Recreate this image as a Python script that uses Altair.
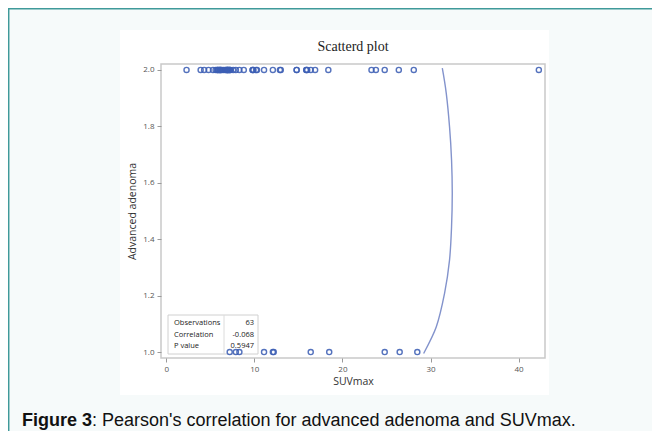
import altair as alt
import pandas as pd

# SUVmax values
suv_advanced = [2.3, 3.9, 4.3, 4.8, 5.3, 5.6, 5.8, 5.8, 5.9, 6.0, 6.1, 6.1, 6.2, 6.3, 6.5,
                6.7, 6.8, 6.9, 6.9, 7.0, 7.0, 7.1, 7.2, 7.2, 7.3, 7.6, 7.9, 8.3, 8.8, 9.8,
                9.8, 9.9, 10.2, 10.3, 11.1, 12.1, 12.9, 13.0, 14.8, 14.8, 15.9, 15.9, 16.0,
                16.4, 16.9, 18.4, 23.3, 23.8, 24.8, 26.4, 28.1, 42.3]
suv_non_advanced = [7.2, 7.9, 8.3, 11.1, 12.1, 12.2, 16.4, 18.5, 24.8, 26.5, 28.5]

# ellipse-like curve
curve_x = [31.34, 31.79, 32.16, 32.39, 32.47, 32.39, 32.16, 31.60, 30.66, 29.22]
curve_y = [2.006, 1.917, 1.799, 1.681, 1.563, 1.444, 1.326, 1.209, 1.090, 0.995]

stat_labels = ["Observations", "Correlation", "P value"]
stat_values = ["63", "-0.068", "0.5947"]

x_ticks = [0, 10, 20, 30, 40]
y_ticks = [1.0, 1.2, 1.4, 1.6, 1.8, 2.0]

W, H = 384, 294
FONT = "Open Sans"
TEAL = "#3f9a9a"

pts = pd.DataFrame({
    "SUVmax": suv_advanced + suv_non_advanced,
    "adv": [2.0] * len(suv_advanced) + [1.0] * len(suv_non_advanced),
})
curve = pd.DataFrame({"x": curve_x, "y": curve_y, "i": list(range(len(curve_x)))})
one = pd.DataFrame({"k": [0]})

xs = alt.Scale(domain=[-0.6, 43], nice=False, zero=False)
ys = alt.Scale(domain=[0.979, 2.021], nice=False, zero=False)

axis_common = dict(grid=False, domain=False, zindex=1, tickColor="#9a9a9a", tickSize=4,
                   labelFont=FONT, labelFontSize=8, labelColor="#555", labelPadding=3,
                   titleFont=FONT, titleFontSize=10.5, titleFontWeight="normal",
                   titleColor="#333")

# page border (teal) and white figure panel
border_left = alt.Chart(one).mark_rule(stroke=TEAL, strokeWidth=1.5).encode(
    x=alt.value(-152.3), y=alt.value(-56), y2=alt.value(367))
border_top = alt.Chart(one).mark_rule(stroke=TEAL, strokeWidth=1.5).encode(
    x=alt.value(-153), x2=alt.value(491), y=alt.value(-55.3))

white = alt.Chart(one).mark_rect(fill="white").encode(
    x=alt.value(-41), x2=alt.value(388), y=alt.value(-34), y2=alt.value(331))

frame = alt.Chart(one).mark_rect(fillOpacity=0, stroke="#c9c9c9", strokeWidth=1.5).encode(
    x=alt.value(0), x2=alt.value(W), y=alt.value(0), y2=alt.value(H))

title = alt.Chart(one).mark_text(align="center", baseline="middle", font="Liberation Serif",
                                 fontSize=14, color="#222").encode(
    x=alt.value(W / 2), y=alt.value(-17), text=alt.value("Scatterd plot"))

line = alt.Chart(curve).mark_line(color="#8393cc", strokeWidth=1.4, interpolate="cardinal").encode(
    x=alt.X("x:Q", scale=xs,
            axis=alt.Axis(title="SUVmax", values=x_ticks, format="d", titlePadding=3, **axis_common)),
    y=alt.Y("y:Q", scale=ys,
            axis=alt.Axis(title="Advanced adenoma", values=y_ticks, format=".1f", titlePadding=5,
                          **axis_common)),
    order="i:Q",
)

points = alt.Chart(pts).mark_point(shape="circle", filled=False, size=26, strokeWidth=1.4,
                                   color="#3d5fb5", opacity=0.88).encode(
    x=alt.X("SUVmax:Q", scale=xs,
            axis=alt.Axis(title="SUVmax", values=x_ticks, format="d", titlePadding=3, **axis_common)),
    y=alt.Y("adv:Q", scale=ys,
            axis=alt.Axis(title="Advanced adenoma", values=y_ticks, format=".1f", titlePadding=5,
                          **axis_common)),
)

layers = [border_left, border_top, white, frame, title, line]

# statistics table
table_box = alt.Chart(one).mark_rect(fillOpacity=0, stroke="#d0d0d0", strokeWidth=1).encode(
    x=alt.value(7), x2=alt.value(97), y=alt.value(251), y2=alt.value(290))
table_sep = alt.Chart(one).mark_rule(stroke="#dcdcdc", strokeWidth=1).encode(
    x=alt.value(63), y=alt.value(251), y2=alt.value(290))
layers += [table_box, table_sep]
for k, (lab, val) in enumerate(zip(stat_labels, stat_values)):
    yy = 259 + k * 11.5
    layers.append(alt.Chart(one).mark_text(align="left", baseline="middle", font=FONT,
                                           fontSize=7.5, color="#222").encode(
        x=alt.value(13), y=alt.value(yy), text=alt.value(lab)))
    layers.append(alt.Chart(one).mark_text(align="right", baseline="middle", font=FONT,
                                           fontSize=7.5, color="#222").encode(
        x=alt.value(93), y=alt.value(yy), text=alt.value(val)))
layers.append(points)

# caption
cap_bold = alt.Chart(one).mark_text(align="left", baseline="middle", font="Liberation Sans",
                                    fontSize=18, fontWeight="bold", color="#111").encode(
    x=alt.value(-139), y=alt.value(357), text=alt.value("Figure 3"))
cap_rest = alt.Chart(one).mark_text(align="left", baseline="middle", font="Liberation Sans",
                                    fontSize=18, color="#111").encode(
    x=alt.value(-69), y=alt.value(357),
    text=alt.value(": Pearson's correlation for advanced adenoma and SUVmax."))
layers += [cap_bold, cap_rest]

chart = alt.layer(*layers).properties(
    width=W, height=H,
    autosize="none",
    padding={"left": 153, "top": 56, "right": 107, "bottom": 73},
    background="#f6fafa",
).configure_view(stroke=None)

chart.save("out.html", embed_options={"renderer": "svg", "actions": False})
